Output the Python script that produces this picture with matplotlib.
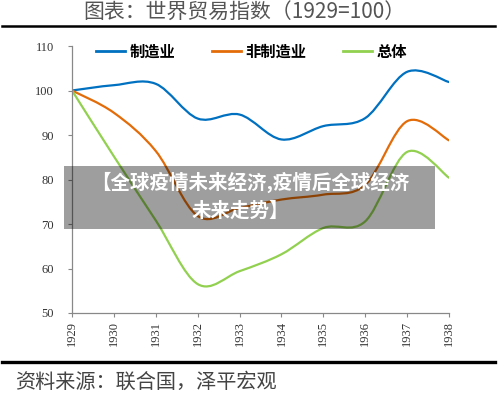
import numpy as np
import matplotlib.pyplot as plt
from matplotlib.path import Path
from matplotlib.patches import PathPatch, Rectangle
from matplotlib.lines import Line2D

plt.rcParams['font.family'] = ['Noto Sans CJK SC', 'DejaVu Sans']

# 数据：世界贸易指数（1929=100）
years = [1929, 1930, 1931, 1932, 1933, 1934, 1935, 1936, 1937, 1938]
manufacturing = [100, 101.2, 101.5, 93.7, 94.6, 89.0, 92.0, 93.8, 104.2, 101.9]
non_manufacturing = [100, 95.0, 86.4, 71.8, 73.6, 75.5, 76.6, 78.8, 93.1, 88.8]
overall = [100, 85.2, 70.8, 56.5, 59.4, 63.2, 69.1, 70.6, 86.2, 80.4]
series_names = ["制造业", "非制造业", "总体"]
series_colors = ["#0070C0", "#E36C09", "#92D050"]


def smooth_path(x, y):
    # 平滑曲线（类似 Excel 的平滑线），用贝塞尔控制点
    pts = np.column_stack([x, y]).astype(float)
    n = len(pts)
    verts = [pts[0]]
    codes = [Path.MOVETO]
    for i in range(n - 1):
        p0 = pts[max(i - 1, 0)]
        p1 = pts[i]
        p2 = pts[i + 1]
        p3 = pts[min(i + 2, n - 1)]
        c1 = p1 + (p2 - p0) / 6
        c2 = p2 - (p3 - p1) / 6
        verts += [c1, c2, p2]
        codes += [Path.CURVE4] * 3
    return Path(verts, codes)


fig = plt.figure(figsize=(5, 3.96), dpi=100)
ax = fig.add_axes([0.144, 0.2096, 0.754, 0.6742])

handles = []
for vals, name, col in zip([manufacturing, non_manufacturing, overall], series_names, series_colors):
    patch = PathPatch(smooth_path(years, vals), fill=False, edgecolor=col, lw=1.6,
                      capstyle='round', joinstyle='round')
    ax.add_patch(patch)
    handles.append(Line2D([], [], color=col, lw=2, label=name))

ax.set_xlim(1929, 1938)
ax.set_ylim(50, 110)
ax.set_xticks(years)
ax.set_xticklabels([str(y) for y in years], rotation=90, fontfamily='Liberation Serif',
                   fontsize=9, color='#333333')
ax.set_yticks(range(50, 111, 10))
ax.set_yticklabels([str(v) for v in range(50, 111, 10)], fontfamily='Liberation Serif',
                   fontsize=9, color='#333333')
for s in ['top', 'right']:
    ax.spines[s].set_visible(False)
for s in ['left', 'bottom']:
    ax.spines[s].set_color('#888888')
    ax.spines[s].set_linewidth(0.9)
ax.tick_params(direction='out', length=3, color='#888888', pad=3)
ax.tick_params(axis='y', pad=10)

ax.legend(handles=handles, ncol=3, loc='upper center', bbox_to_anchor=(0.476, 1.06),
          frameon=False, handlelength=1.9, columnspacing=2.4, handletextpad=0.3,
          prop={'family': 'Noto Sans CJK SC', 'weight': 'bold', 'size': 11})

# 标题和横线
fig.text(0.488, 0.967, "图表：世界贸易指数（1929=100）", ha='center', va='center',
         fontsize=15, color='#555555')
fig.add_artist(Line2D([0.004, 0.99], [1 - 26 / 396, 1 - 26 / 396], color='black', lw=1.8))
fig.add_artist(Line2D([0.004, 0.99], [1 - 362 / 396, 1 - 362 / 396], color='black', lw=2.4))
fig.text(0.03, 1 - 382 / 396, "资料来源：联合国，泽平宏观", ha='left', va='center',
         fontsize=14.5, color='#444444')

# 半透明横幅
fig.add_artist(Rectangle((64 / 500, 1 - 229 / 396), (435 - 64) / 500, 63 / 396,
                         transform=fig.transFigure, facecolor='black', alpha=0.38,
                         edgecolor='none'))
fig.text(0.5, 1 - 182 / 396, "【全球疫情未来经济,疫情后全球经济", ha='center', va='center',
         fontsize=14, fontweight='bold', color='white')
fig.text(0.48, 1 - 211 / 396, "未来走势】", ha='center', va='center',
         fontsize=14, fontweight='bold', color='white')

fig.savefig("out.png", dpi=100)
